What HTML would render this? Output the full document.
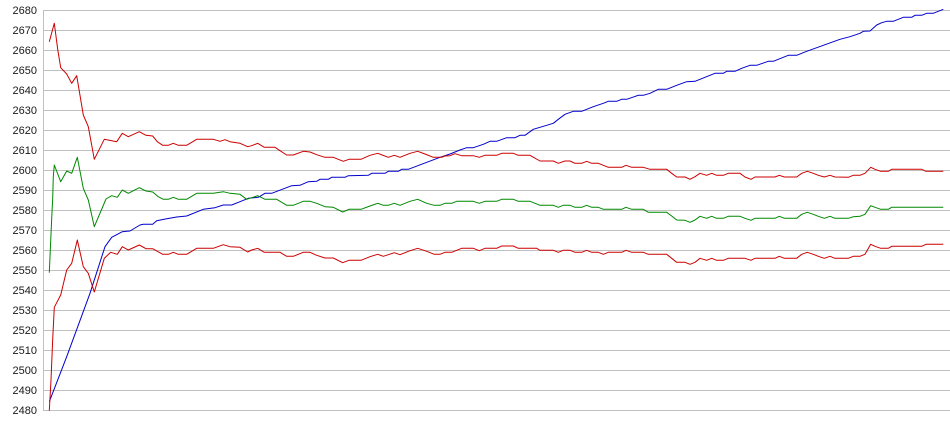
<!DOCTYPE html>
<html>
<head>
<meta charset="utf-8">
<style>
html,body{margin:0;padding:0;background:#fff;}
svg{display:block;}
text{font-family:"Liberation Sans",Arial,sans-serif;font-size:11px;fill:#1a1a1a;}
</style>
</head>
<body>
<svg width="950" height="435" viewBox="0 0 950 435" xmlns="http://www.w3.org/2000/svg">
<g stroke="#c0c0c0" stroke-width="1" shape-rendering="crispEdges">
<line x1="43" y1="10.5" x2="950" y2="10.5"/>
<line x1="43" y1="30.5" x2="950" y2="30.5"/>
<line x1="43" y1="50.5" x2="950" y2="50.5"/>
<line x1="43" y1="70.5" x2="950" y2="70.5"/>
<line x1="43" y1="90.5" x2="950" y2="90.5"/>
<line x1="43" y1="110.5" x2="950" y2="110.5"/>
<line x1="43" y1="130.5" x2="950" y2="130.5"/>
<line x1="43" y1="150.5" x2="950" y2="150.5"/>
<line x1="43" y1="170.5" x2="950" y2="170.5"/>
<line x1="43" y1="190.5" x2="950" y2="190.5"/>
<line x1="43" y1="210.5" x2="950" y2="210.5"/>
<line x1="43" y1="230.5" x2="950" y2="230.5"/>
<line x1="43" y1="250.5" x2="950" y2="250.5"/>
<line x1="43" y1="270.5" x2="950" y2="270.5"/>
<line x1="43" y1="290.5" x2="950" y2="290.5"/>
<line x1="43" y1="310.5" x2="950" y2="310.5"/>
<line x1="43" y1="330.5" x2="950" y2="330.5"/>
<line x1="43" y1="350.5" x2="950" y2="350.5"/>
<line x1="43" y1="370.5" x2="950" y2="370.5"/>
<line x1="43" y1="390.5" x2="950" y2="390.5"/>
<line x1="43" y1="410.5" x2="950" y2="410.5"/>
<line x1="43.5" y1="10" x2="43.5" y2="411"/>
</g>
<g text-anchor="end">
<text x="37" y="14">2680</text>
<text x="37" y="34">2670</text>
<text x="37" y="54">2660</text>
<text x="37" y="74">2650</text>
<text x="37" y="94">2640</text>
<text x="37" y="114">2630</text>
<text x="37" y="134">2620</text>
<text x="37" y="154">2610</text>
<text x="37" y="174">2600</text>
<text x="37" y="194">2590</text>
<text x="37" y="214">2580</text>
<text x="37" y="234">2570</text>
<text x="37" y="254">2560</text>
<text x="37" y="274">2550</text>
<text x="37" y="294">2540</text>
<text x="37" y="314">2530</text>
<text x="37" y="334">2520</text>
<text x="37" y="354">2510</text>
<text x="37" y="374">2500</text>
<text x="37" y="394">2490</text>
<text x="37" y="414">2480</text>
</g>
<g fill="none" stroke-width="1" stroke-linejoin="round">
<polyline stroke="#0000cc" points="49.3,401.7 66.7,356.7 90,293.3 105,246.7 111.7,237.3 122.3,231.7 130,231 140,225 143.3,224.3 152.7,224.3 156.7,220.7 166.7,218.7 176.7,217 186.7,216 203.3,209.3 215,207.7 223.3,205 231.7,205 240,201.7 248.3,198.3 258.3,197.3 265,193.3 271.7,193.3 291.7,185.7 300,185.3 308.3,181.7 316.7,181.3 320,179.3 328.3,179.3 331.7,177.3 345,177.3 348.3,175.7 368.3,175.3 371.7,173.3 385,173.3 388.3,171.3 398.3,171.3 401.7,169.3 408.3,169.3 440,157.3 450,154 460,150 466.7,147.7 473.3,147.7 483.3,144.3 490,141.3 496.7,141.3 506.7,137.7 515,137.7 520,135.3 525,135.3 533.3,129.3 540,127.3 546.7,125.3 553.3,123.3 558.3,119.3 565,114.3 573.3,111.3 581.7,111.3 593.3,106.7 603.3,103.3 608.3,101.3 616.7,101.3 621.7,99.3 626.7,99.3 638.3,95.3 643.3,95.3 650,93.3 658.3,89.3 666.7,89.3 676.7,85.3 686.7,81.7 695,81.3 705,77.3 715,73.3 723.3,73.3 726.7,71.3 735,71.3 741.7,68.3 750,65.3 756.7,65.3 768.3,61.3 773.3,61.3 788.3,55.3 796.7,55.3 806.7,51.3 840,39.3 850,36.7 860,33.3 863.3,31.3 870,31 876.7,25 881.7,22.7 886.7,21.3 893.3,21.3 903.3,17.3 911.7,17.3 915,15.3 921.7,15.3 926.7,13.3 933.3,13.3 943.3,9.3"/>
<polyline stroke="#cc0000" points="49.3,41.7 54.3,23.3 57.7,49.3 60.7,67.7 66.7,74 71.7,83.3 76.7,75.7 83.3,115 88.3,126.7 94.3,159.3 104.3,139.3 116.7,141.7 122.3,133.3 128.3,136.7 139.3,131.7 146,135.3 152.7,136 157.3,141.7 162.7,145.3 168.3,145.3 173.3,143.3 178.3,145.3 186.7,145.3 196.7,139.3 213.3,139.3 220,141.3 225,139.7 230,141.7 240,143.3 247.7,146.7 251.7,145.7 257.7,143.3 264.3,147.3 275,147.3 280,150.7 286.7,155 293.3,155 303.3,151.3 310,152 316.7,154.7 325,157.3 333.3,157.3 343.3,161.3 349,159.3 361,159.3 370,155.3 377.7,153.3 388.3,157.3 394.3,155.3 400,157.3 410,153.3 417.7,151.3 425,154 433.3,157.3 441.7,157.3 445,156 450,155.7 455,153.7 461.7,155.7 473.3,155.7 479.3,157.3 485,155.3 496.7,155.3 501.7,153.3 513.3,153.3 518.3,155.3 530,155.3 540,161 553.3,161 558.3,163.3 565,161 570,161 575,163.3 581.7,163.3 586.7,161.3 591.7,163.3 598.3,163.3 608.3,167.3 621.7,167.3 626,165.3 631.7,167.3 643.3,167.3 650,169.3 666.7,169.3 671.7,173.3 676.7,177 685,177 690,179.3 695,176.7 700,173.3 706.7,175.3 711.7,173.3 716.7,175.3 723.3,175.3 728.3,173.3 740,173.3 745,177 751,179.3 755,177 775,177 779.3,175.3 784.3,177 796.7,177 801.7,173.3 807.3,171.3 813.3,173.3 818.3,175.3 824.3,177 830,175.3 835,177 848.3,177.3 853.3,175.3 860,175.3 865,173.3 870.7,167.3 875,169.3 880.7,171.3 888.3,171.3 891.7,169.3 921.7,169.3 926,171.3 943.3,171.3"/>
<polyline stroke="#008800" points="49.3,272.7 51.7,218.3 52.7,198.3 53.3,176.7 54.3,165 60.7,181.7 66.7,171 71.7,173.3 77.3,157.3 83.3,188.3 88.3,200 94.3,226.7 106,199 111.7,195.7 117.3,197.3 122.3,190 128.3,193.3 139.3,187.7 146,191 152.7,192 158.3,196.7 163.3,199.3 168.3,199.3 173.3,197.3 178.3,199.3 186.7,199.3 196.7,193.3 213.3,193.3 223.3,191.7 230,193.3 240,194.3 246.7,199.3 251.7,197.7 257.7,195.7 265,199.3 276.7,199.3 286.7,205.3 293.3,205.3 303.3,201.3 310,201.3 316.7,203.3 325,206.7 333.3,207.3 342.7,212 349,209.3 361,209.3 370,206 377.7,203.3 383.3,205.3 388.3,205.3 394.3,203.3 400,205.3 410,201.3 417.7,199.3 426.7,203.3 434.3,205.3 440,205.3 445,203.3 451.7,203.3 456.7,201.3 473.3,201.3 479.3,203.3 485,201.3 496.7,201.3 501.7,199.3 513.3,199.3 518.3,201.3 530,201.3 540,205.3 553.3,205.3 558.3,207.3 563.3,205.3 570,205.3 575,207.3 581.7,207.3 586.7,205.3 591.7,207.3 598.3,207.3 603.3,209.3 621.7,209.3 626,207.3 631.7,209.3 643.3,209.3 648.3,212.3 666.7,212.3 671.7,216 676.7,220 685,220.3 690,222.3 695,220 700,216.3 706.7,218.3 711.7,216.3 716.7,218.3 723.3,218.3 728.3,216.3 740,216.3 745,218.3 751,220.3 755,218.3 775,218.3 779.3,216.3 784.3,218.3 796.7,218.3 801.7,214.3 807.3,212.3 813.3,214.3 818.3,216.3 824.3,218.3 830,216.3 835,218.3 848.3,218.3 853.3,216.7 860,216.3 865,214.3 870.7,205.7 875,207.3 880.7,209.3 888.3,209.3 891.7,207.3 943.3,207.3"/>
<polyline stroke="#cc0000" points="49.3,410.7 51,380 52.7,339 54.3,307.3 60.7,295 66.7,270 71.7,263.3 77.3,240 83.3,266.7 88.3,273.3 94.3,292 104.3,258.3 110.7,252.3 117.3,254.3 122.3,246.7 128.3,250 139.3,245 146,248.7 152.7,248.7 162.7,254.3 168.3,254.3 173.3,252.3 178.3,254.3 186.7,254.3 196.7,248.3 213.3,248.3 223.3,244.7 230,246.7 240,247.3 247.7,252 251.7,250 257.7,248.3 264.3,252.3 280,252.3 286.7,256.3 293.3,256.3 303.3,252.3 310,252.3 316.7,255.3 325,258 333.3,258 342.7,262.7 349,260.3 361,260.3 370,256.7 377.7,254.3 383.3,256.3 388.3,254.7 394.3,252.7 400,254.7 410,250.7 417.7,248.3 426.7,251.3 434.3,254.3 440,254.3 445,252.3 451.7,252.3 461.7,248.3 473.3,248.3 479.3,250.7 485,248.3 496.7,248.3 501.7,246 513.3,246 518.3,248.3 536.7,248.3 540,250.3 553.3,250.3 558.3,252.3 563.3,250.3 570,250.3 575,252.3 581.7,252.3 586.7,250.3 591.7,252.3 598.3,252.3 603.3,254.3 608.3,252.3 621.7,252.3 626,250.3 631.7,252.3 643.3,252.3 648.3,254.3 666.7,254.3 671.7,258.3 676.7,262.3 685,262.3 690,264.3 695,262.3 700,258.3 706.7,260.3 711.7,258.3 716.7,260.3 723.3,260.3 728.3,258.3 745,258.3 751,260.3 755,258.3 775,258.3 779.3,256.3 784.3,258.3 796.7,258.3 801.7,254.3 807.3,252.3 813.3,254.3 818.3,256.3 824.3,258.3 830,256.3 835,258.3 848.3,258.3 853.3,256.3 860,256.3 865,254.3 870.7,244.3 875,246.3 880.7,248.3 888.3,248.3 891.7,246.3 921.7,246.3 926,244.3 943.3,244.3"/>
</g>
</svg>
</body>
</html>
